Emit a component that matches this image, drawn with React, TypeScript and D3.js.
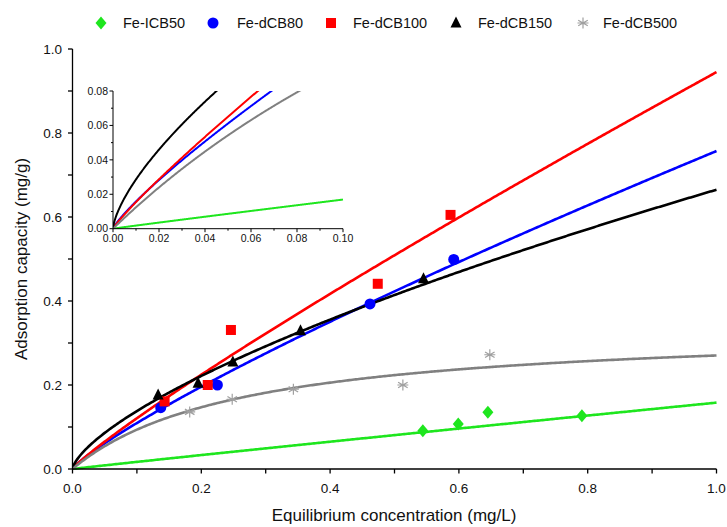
import React from "react";
import * as d3 from "d3";

// ---- Data ----
const seriesNames = ["Fe-ICB50", "Fe-dCB80", "Fe-dCB100", "Fe-dCB150", "Fe-dCB500"];
const seriesColors = ["#1ee61e", "#0000ff", "#ff0000", "#000000", "#808080"];
const markerColors = ["#1ee61e", "#0000ff", "#ff0000", "#000000", "#a0a0a0"];
const markerShapes = ["diamond", "circle", "square", "triangle", "star"];

const icb50X = [0.544, 0.599, 0.645, 0.791];
const icb50Y = [0.091, 0.107, 0.135, 0.127];
const dcb80X = [0.137, 0.225, 0.462, 0.592];
const dcb80Y = [0.146, 0.2, 0.393, 0.499];
const dcb100X = [0.143, 0.21, 0.246, 0.474, 0.587];
const dcb100Y = [0.161, 0.2, 0.331, 0.441, 0.605];
const dcb150X = [0.133, 0.195, 0.249, 0.354, 0.545];
const dcb150Y = [0.176, 0.204, 0.255, 0.329, 0.453];
const dcb500X = [0.182, 0.248, 0.343, 0.513, 0.648];
const dcb500Y = [0.136, 0.166, 0.19, 0.2, 0.272];

// Fitted isotherm parameters
// Freundlich q = K * C^n  (first four), Langmuir q = qm*KL*C/(1+KL*C) (last)
const fitType = ["freundlich", "freundlich", "freundlich", "freundlich", "langmuir"];
const fitP1 = [0.158, 0.757, 0.945, 0.665, 0.342];
const fitP2 = [0.97, 0.84, 0.893, 0.683, 3.77];

const mainXTicks = [0, 0.2, 0.4, 0.6, 0.8, 1.0];
const mainYTicks = [0, 0.2, 0.4, 0.6, 0.8, 1.0];
const insetXTicks = [0, 0.02, 0.04, 0.06, 0.08, 0.1];
const insetYTicks = [0, 0.02, 0.04, 0.06, 0.08];

const seriesX = [icb50X, dcb80X, dcb100X, dcb150X, dcb500X];
const seriesY = [icb50Y, dcb80Y, dcb100Y, dcb150Y, dcb500Y];

function fitValue(i: number, c: number) {
  if (fitType[i] === "freundlich") return fitP1[i] * Math.pow(c, fitP2[i]);
  return (fitP1[i] * fitP2[i] * c) / (1 + fitP2[i] * c);
}

const FONT = "'Liberation Sans', Arial, sans-serif";

function Marker({ shape, x, y, color }: { shape: string; x: number; y: number; color: string }) {
  if (shape === "diamond") {
    return <path d={`M${x},${y - 6.5}L${x + 5.5},${y}L${x},${y + 6.5}L${x - 5.5},${y}Z`} fill={color} />;
  }
  if (shape === "circle") return <circle cx={x} cy={y} r={5.5} fill={color} />;
  if (shape === "square") return <rect x={x - 5} y={y - 5} width={10} height={10} fill={color} />;
  if (shape === "triangle") {
    return <path d={`M${x},${y - 6.5}L${x + 5.5},${y + 4.5}L${x - 5.5},${y + 4.5}Z`} fill={color} />;
  }
  const r = 5.5;
  const lines = [0, 60, 120].map((a) => {
    const rad = (a * Math.PI) / 180 + Math.PI / 2;
    return `M${x + r * Math.cos(rad)},${y + r * Math.sin(rad)}L${x - r * Math.cos(rad)},${y - r * Math.sin(rad)}`;
  });
  const h = `M${x - r},${y}L${x + r},${y}`;
  return <path d={lines.join("") + h} stroke={color} strokeWidth={1.2} fill="none" />;
}

export default function App() {
  const W = 727;
  const H = 527;
  // main plot
  const x = d3.scaleLinear().domain([0, 1]).range([72.5, 716.5]);
  const y = d3.scaleLinear().domain([0, 1]).range([469, 49]);
  // inset
  const ix = d3.scaleLinear().domain([0, 0.1]).range([113, 343]);
  const iy = d3.scaleLinear().domain([0, 0.08]).range([228.7, 91]);

  const samples = d3.range(0, 401).map((k) => k / 400);
  const insetSamples = d3.range(0, 401).map((k) => (k / 400) * 0.1);

  const mainLine = (i: number) =>
    d3
      .line<number>()
      .x((c) => x(c))
      .y((c) => y(fitValue(i, c)))(samples) || "";
  const insetLine = (i: number) =>
    d3
      .line<number>()
      .x((c) => ix(c))
      .y((c) => iy(fitValue(i, c)))(insetSamples) || "";

  const mainMinorX = d3.range(0, 11).map((k) => k / 10);
  const mainMinorY = d3.range(0, 11).map((k) => k / 10);
  const insetMinorX = d3.range(0, 11).map((k) => k / 100);
  const insetMinorY = d3.range(0, 9).map((k) => k / 100);

  const legendX = [101, 213, 331, 456, 583];
  const legendTextX = [123, 237, 353, 478, 603];

  const drawOrder = [0, 1, 2, 3, 4];

  return (
    <div style={{ position: "absolute", left: 0, top: 0 }}>
      <svg width={W} height={H} style={{ display: "block", background: "#fff" }}>
        <defs>
          <clipPath id="mainClip">
            <rect x={72.5} y={40} width={646} height={430} />
          </clipPath>
          <clipPath id="insetClip">
            <rect x={113} y={91} width={231} height={138} />
          </clipPath>
        </defs>

        {/* legend */}
        {seriesNames.map((n, i) => (
          <g key={n}>
            <Marker shape={markerShapes[i]} x={legendX[i]} y={23} color={markerColors[i]} />
            <text x={legendTextX[i]} y={28} fontFamily={FONT} fontSize={14.5} fill="#111">
              {n}
            </text>
          </g>
        ))}

        {/* main curves */}
        <g clipPath="url(#mainClip)">
          {drawOrder.map((i) => (
            <path key={i} d={mainLine(i)} fill="none" stroke={seriesColors[i]} strokeWidth={2.6} />
          ))}
        </g>
        {/* markers */}
        {drawOrder.map((i) =>
          seriesX[i].map((v, j) => (
            <Marker key={`${i}-${j}`} shape={markerShapes[i]} x={x(v)} y={y(seriesY[i][j])} color={markerColors[i]} />
          ))
        )}

        {/* main axes */}
        <g stroke="#000" strokeWidth={1.3}>
          <line x1={x(0)} x2={x(1)} y1={y(0)} y2={y(0)} />
          <line x1={x(0)} x2={x(0)} y1={y(0)} y2={y(1)} />
          {mainMinorX.map((t) => (
            <line key={"mx" + t} x1={x(t)} x2={x(t)} y1={y(0)} y2={y(0) + 4.5} />
          ))}
          {mainMinorY.map((t) => (
            <line key={"my" + t} x1={x(0)} x2={x(0) - 4.5} y1={y(t)} y2={y(t)} />
          ))}
        </g>
        {mainXTicks.map((t) => (
          <text key={"xt" + t} x={x(t)} y={493} textAnchor="middle" fontFamily={FONT} fontSize={13.5} fill="#111">
            {t.toFixed(1)}
          </text>
        ))}
        {mainYTicks.map((t) => (
          <text key={"yt" + t} x={62} y={y(t) + 4.8} textAnchor="end" fontFamily={FONT} fontSize={13.5} fill="#111">
            {t.toFixed(1)}
          </text>
        ))}
        <text x={394} y={521} textAnchor="middle" fontFamily={FONT} fontSize={17} fill="#111">
          Equilibrium concentration (mg/L)
        </text>
        <text
          transform={`translate(27,${(y(0) + y(1)) / 2}) rotate(-90)`}
          textAnchor="middle"
          fontFamily={FONT}
          fontSize={17}
          fill="#111"
        >
          Adsorption capacity (mg/g)
        </text>

        {/* inset */}
        <g clipPath="url(#insetClip)">
          {drawOrder.map((i) => (
            <path key={"in" + i} d={insetLine(i)} fill="none" stroke={seriesColors[i]} strokeWidth={2} />
          ))}
        </g>
        <g stroke="#000" strokeWidth={1}>
          <line x1={ix(0)} x2={ix(0.1)} y1={iy(0)} y2={iy(0)} />
          <line x1={ix(0)} x2={ix(0)} y1={iy(0)} y2={iy(0.08)} />
          {insetMinorX.map((t, k) => (
            <line key={"ix" + k} x1={ix(t)} x2={ix(t)} y1={iy(0)} y2={iy(0) + (k % 2 === 0 ? 3.5 : 2)} />
          ))}
          {insetMinorY.map((t, k) => (
            <line key={"iy" + k} x1={ix(0)} x2={ix(0) - (k % 2 === 0 ? 3.5 : 2)} y1={iy(t)} y2={iy(t)} />
          ))}
        </g>
        {insetXTicks.map((t) => (
          <text key={"ixt" + t} x={ix(t)} y={242} textAnchor="middle" fontFamily={FONT} fontSize={10.5} fill="#111">
            {t.toFixed(2)}
          </text>
        ))}
        {insetYTicks.map((t) => (
          <text key={"iyt" + t} x={108} y={iy(t) + 3.7} textAnchor="end" fontFamily={FONT} fontSize={10.5} fill="#111">
            {t.toFixed(2)}
          </text>
        ))}
      </svg>
    </div>
  );
}
